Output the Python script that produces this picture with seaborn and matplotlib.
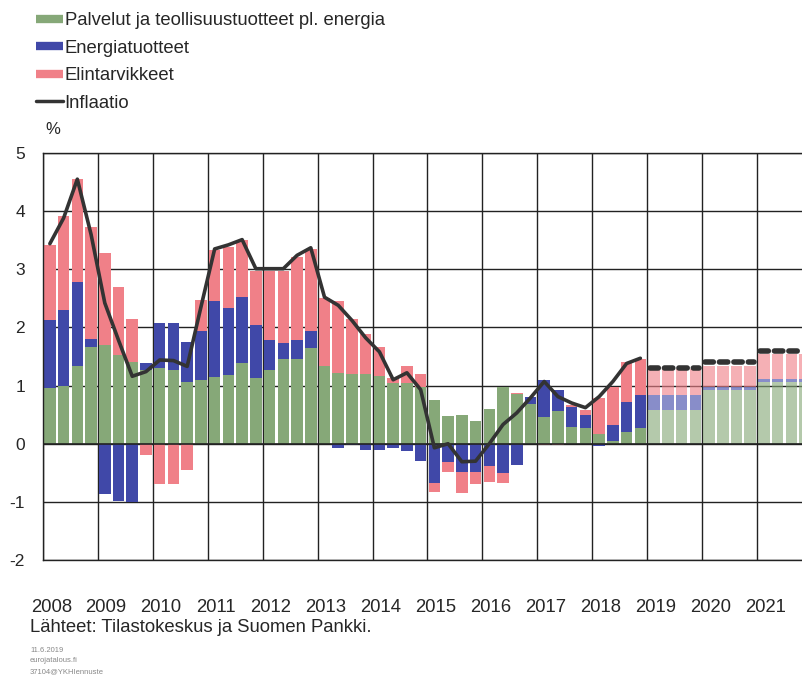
import matplotlib
matplotlib.use("Agg")
import matplotlib.pyplot as plt
from matplotlib.lines import Line2D
import seaborn as sns
import numpy as np
import pandas as pd

# quarterly contributions, 2008Q1 - 2018Q4 (outturn)
palvelut = [0.95, 1.00, 1.33, 1.66, 1.70, 1.53, 1.41, 1.27,
            1.30, 1.27, 1.07, 1.09, 1.15, 1.19, 1.38, 1.13,
            1.27, 1.45, 1.46, 1.64, 1.34, 1.21, 1.20, 1.20,
            1.16, 1.05, 1.05, 0.97, 0.75, 0.47, 0.49, 0.39,
            0.59, 0.97, 0.86, 0.69, 0.46, 0.56, 0.29, 0.27,
            0.16, 0.05, 0.21, 0.27]
energia = [1.17, 1.30, 1.45, 0.14, -0.87, -0.98, -1.01, 0.11,
           0.78, 0.81, 0.68, 0.84, 1.31, 1.15, 1.14, 0.91,
           0.51, 0.28, 0.33, 0.29, 0.00, -0.08, -0.03, -0.10,
           -0.11, -0.07, -0.12, -0.30, -0.67, -0.31, -0.48, -0.48,
           -0.38, -0.50, -0.37, 0.12, 0.64, 0.36, 0.34, 0.23,
           -0.04, 0.28, 0.50, 0.57]
elintarvikkeet = [1.30, 1.62, 1.77, 1.93, 1.58, 1.17, 0.74, -0.20,
                  -0.70, -0.70, -0.45, 0.55, 0.87, 1.04, 0.98, 0.93,
                  1.19, 1.24, 1.42, 1.42, 1.16, 1.25, 0.95, 0.69,
                  0.50, 0.08, 0.28, 0.23, -0.16, -0.17, -0.37, -0.22,
                  -0.28, -0.18, 0.02, 0.00, -0.03, -0.03, 0.03, 0.08,
                  0.63, 0.64, 0.69, 0.61]
inflaatio = [3.44, 3.88, 4.55, 3.60, 2.42, 1.78, 1.16, 1.24,
             1.44, 1.43, 1.33, 2.35, 3.35, 3.42, 3.51, 3.01,
             3.01, 3.01, 3.24, 3.37, 2.52, 2.38, 2.12, 1.82,
             1.58, 1.10, 1.22, 0.93, -0.07, 0.00, -0.31, -0.30,
             0.00, 0.33, 0.53, 0.79, 1.07, 0.81, 0.70, 0.62,
             0.81, 1.07, 1.38, 1.47]

# forecast 2019Q1 - 2021Q4 (annual figures per quarter)
palvelut_enn = [0.58, 0.58, 0.58, 0.58, 0.92, 0.92, 0.92, 0.92, 1.07, 1.07, 1.07, 1.07]
energia_enn = [0.26, 0.26, 0.26, 0.26, 0.05, 0.05, 0.05, 0.05, 0.04, 0.04, 0.04, 0.04]
elintarvikkeet_enn = [0.44, 0.44, 0.44, 0.44, 0.37, 0.37, 0.37, 0.37, 0.43, 0.43, 0.43, 0.43]
inflaatio_enn = [1.30, 1.30, 1.30, 1.30, 1.41, 1.41, 1.41, 1.41, 1.60, 1.60, 1.60, 1.60]

years = [str(y) for y in range(2008, 2022)]

sns.set_style("white")
plt.rcParams["font.family"] = ["Liberation Sans", "DejaVu Sans"]
plt.rcParams["axes.unicode_minus"] = False

GREEN = "#86a878"
BLUE = "#4048a8"
PINK = "#f08088"
LINE = "#333333"

n_hist = len(inflaatio)
n_all = n_hist + len(inflaatio_enn)
df = pd.DataFrame({
    "q": np.arange(n_all),
    "palvelut": palvelut + palvelut_enn,
    "energia": energia + energia_enn,
    "elintarvikkeet": elintarvikkeet + elintarvikkeet_enn,
    "ennuste": [False] * n_hist + [True] * len(inflaatio_enn),
})

fig = plt.figure(figsize=(8.03, 6.80), dpi=100)
ax = fig.add_axes([43 / 803, 1 - 560 / 680, 769 / 803, 407 / 680])

# diverging stacked bars
pos_base = np.zeros(n_all)
neg_base = np.zeros(n_all)
for col, color in [("palvelut", GREEN), ("energia", BLUE), ("elintarvikkeet", PINK)]:
    vals = df[col].to_numpy()
    bottom = np.where(vals >= 0, pos_base, neg_base)
    alphas = np.where(df["ennuste"], 0.62, 1.0)
    for a in (1.0, 0.62):
        m = alphas == a
        ax.bar(df["q"][m], vals[m], bottom=bottom[m], width=0.84,
               color=color, alpha=a, linewidth=0, zorder=2)
    pos_base = pos_base + np.where(vals > 0, vals, 0)
    neg_base = neg_base + np.where(vals < 0, vals, 0)

ax.axhline(0, color="#222222", lw=1.2, zorder=3)

hist = pd.DataFrame({"q": np.arange(n_hist), "v": inflaatio})
sns.lineplot(data=hist, x="q", y="v", ax=ax, color=LINE, lw=2.6, zorder=4)

enn = pd.DataFrame({"q": np.arange(n_hist, n_all), "v": inflaatio_enn,
                    "vuosi": np.repeat([2019, 2020, 2021], 4)})
for _, g in enn.groupby("vuosi"):
    ax.plot(g["q"].to_numpy() + np.array([-0.3, 0, 0, 0.3]), g["v"],
            color=LINE, lw=4, ls=(0, (1.5, 1.1)), solid_capstyle="round",
            dash_capstyle="round", zorder=4)

ax.set_xlim(-0.5, n_all - 0.5)
ax.set_ylim(-2, 5)
ax.set_yticks(range(-2, 6))
ax.set_xticks(np.arange(0, n_all + 1, 4) - 0.5)
ax.set_xticklabels([])
ax.set_xticks(np.arange(0, n_all, 4) + 0.1, minor=True)
ax.set_xticklabels(years, minor=True, fontsize=13.3)
ax.tick_params(axis="x", which="both", length=0, pad=28)
ax.tick_params(axis="y", length=0, pad=13, labelsize=12.5)
ax.grid(True, color="#222222", lw=1.0, zorder=0)
ax.set_axisbelow(True)
for s in ax.spines.values():
    s.set_color("#222222")
    s.set_linewidth(1.0)
ax.set_xlabel("")
ax.set_ylabel("")

fig.text(45 / 803, 1 - 130 / 680, "%", fontsize=12, va="center", ha="left")

handles = [Line2D([], [], color=GREEN, lw=6, solid_capstyle="butt"),
           Line2D([], [], color=BLUE, lw=6, solid_capstyle="butt"),
           Line2D([], [], color=PINK, lw=6, solid_capstyle="butt"),
           Line2D([], [], color=LINE, lw=2.5)]
labels = ["Palvelut ja teollisuustuotteet pl. energia", "Energiatuotteet",
          "Elintarvikkeet", "Inflaatio"]
fig.legend(handles, labels, loc="upper left", bbox_to_anchor=(36 / 803, 1 - 12 / 680),
           frameon=False, fontsize=13.3, handlelength=1.45, handletextpad=0.1,
           labelspacing=0.57, borderpad=0, borderaxespad=0)

fig.text(30 / 803, 1 - 628 / 680, "Lähteet: Tilastokeskus ja Suomen Pankki.",
         fontsize=13.3, va="center", ha="left")
fig.text(30 / 803, 1 - 650 / 680, "11.6.2019", fontsize=5.5, color="#888888", va="center")
fig.text(30 / 803, 1 - 661 / 680, "eurojatalous.fi", fontsize=5.5, color="#888888", va="center")
fig.text(30 / 803, 1 - 672 / 680, "37104@YKHIennuste", fontsize=5.5, color="#888888", va="center")

fig.savefig("out.png", dpi=100)
